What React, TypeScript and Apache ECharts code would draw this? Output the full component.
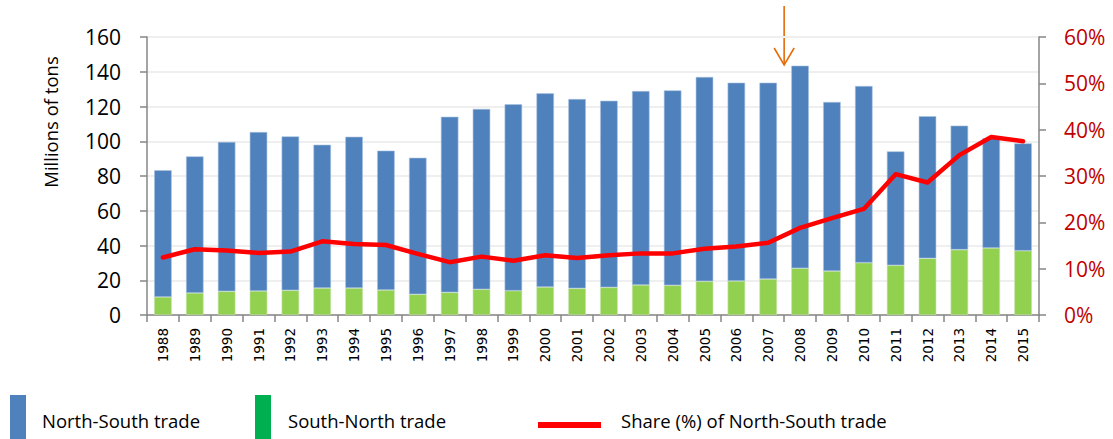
import React, { useEffect, useRef } from "react";
import * as echarts from "echarts";

const years = [
  "1988", "1989", "1990", "1991", "1992", "1993", "1994", "1995", "1996", "1997",
  "1998", "1999", "2000", "2001", "2002", "2003", "2004", "2005", "2006", "2007",
  "2008", "2009", "2010", "2011", "2012", "2013", "2014", "2015",
];

// South-North trade (millions of tons) - bottom of stack
const southNorth = [
  10.4, 12.7, 13.6, 13.8, 14.2, 15.5, 15.5, 14.4, 11.9, 13.0,
  14.8, 14.0, 16.1, 15.3, 15.9, 17.3, 17.1, 19.4, 19.6, 20.7,
  26.9, 25.3, 30.1, 28.6, 32.6, 37.6, 38.6, 37.0,
];

// North-South trade (millions of tons) - stacked on top
const northSouth = [
  72.9, 78.6, 86.0, 91.5, 88.6, 82.5, 87.1, 80.2, 78.6, 101.1,
  103.8, 107.3, 111.5, 109.0, 107.4, 111.6, 112.2, 117.6, 114.1, 113.0,
  116.6, 97.3, 101.7, 65.6, 81.8, 71.4, 63.2, 61.8,
];

// Share (%) line, right axis
const share = [
  12.4, 14.2, 13.9, 13.4, 13.7, 15.9, 15.3, 15.1, 13.2, 11.4,
  12.6, 11.7, 12.9, 12.3, 12.9, 13.3, 13.3, 14.3, 14.8, 15.6,
  18.8, 20.9, 22.9, 30.4, 28.6, 34.5, 38.4, 37.5,
];

const legendLabels = ["North-South trade", "South-North trade", "Share (%) of North-South trade"];
const yAxisTitle = "Millions of tons";
const arrowBetween = ["2007", "2008"];

const FONT = "'Open Sans', 'Noto Sans', sans-serif";

export default function App() {
  const ref = useRef<HTMLDivElement>(null);

  useEffect(() => {
    if (!ref.current) return;
    const chart = echarts.init(ref.current, null, { renderer: "svg" });
    const axisGray = "#868686";
    chart.setOption({
      animation: false,
      backgroundColor: "#ffffff",
      grid: { left: 147, right: 74, top: 37, bottom: 124, containLabel: false },
      xAxis: {
        type: "category",
        data: years,
        boundaryGap: true,
        axisLine: { lineStyle: { color: axisGray, width: 1.5 } },
        axisTick: { show: true, length: 7, alignWithLabel: false, lineStyle: { color: axisGray, width: 1.5 } },
        axisLabel: {
          rotate: 90,
          margin: 13,
          color: "#000000",
          fontFamily: "'DejaVu Sans', sans-serif",
          fontSize: 13.5,
          interval: 0,
        },
      },
      yAxis: [
        {
          type: "value",
          min: 0,
          max: 160,
          interval: 20,
          axisLine: { show: true, lineStyle: { color: axisGray, width: 1.5 } },
          axisTick: { show: true, length: 7, lineStyle: { color: axisGray, width: 1.5 } },
          axisLabel: { color: "#000000", fontFamily: FONT, fontSize: 21, margin: 26 },
          splitLine: { show: true, lineStyle: { color: "#EFEFEF", width: 2 } },
        },
        {
          type: "value",
          min: 0,
          max: 60,
          interval: 10,
          position: "right",
          axisLine: { show: true, lineStyle: { color: axisGray, width: 1.5 } },
          axisTick: { show: true, length: 7, lineStyle: { color: axisGray, width: 1.5 } },
          axisLabel: { color: "#C00000", fontFamily: FONT, fontSize: 21, margin: 25, formatter: "{value}%" },
          splitLine: { show: false },
        },
      ],
      series: [
        {
          name: legendLabels[1],
          type: "bar",
          stack: "trade",
          data: southNorth,
          barWidth: "55%",
          itemStyle: { color: "#92D050", borderColor: "#C4E3A6", borderWidth: 0.6 },
        },
        {
          name: legendLabels[0],
          type: "bar",
          stack: "trade",
          data: northSouth,
          barWidth: "55%",
          itemStyle: { color: "#4F81BD", borderColor: "#A9C2E0", borderWidth: 0.6 },
        },
        {
          name: legendLabels[2],
          type: "line",
          yAxisIndex: 1,
          data: share,
          symbol: "none",
          z: 5,
          lineStyle: { color: "#FF0000", width: 4.5, cap: "round", join: "round" },
        },
      ],
      graphic: [
        {
          type: "text",
          x: 50,
          y: 122,
          rotation: Math.PI / 2,
          style: {
            text: yAxisTitle,
            fill: "#000000",
            font: `18.5px ${FONT}`,
            align: "center",
            verticalAlign: "middle",
          },
        },
        { type: "rect", shape: { x: 10, y: 395, width: 16, height: 50 }, style: { fill: "#4F81BD" } },
        {
          type: "text",
          x: 42,
          y: 420,
          style: { text: legendLabels[0], fill: "#000000", font: `18.5px ${FONT}`, verticalAlign: "middle" },
        },
        { type: "rect", shape: { x: 255, y: 395, width: 16, height: 50 }, style: { fill: "#00B050" } },
        {
          type: "text",
          x: 288,
          y: 420,
          style: { text: legendLabels[1], fill: "#000000", font: `18.5px ${FONT}`, verticalAlign: "middle" },
        },
        { type: "rect", shape: { x: 538, y: 422, width: 63, height: 6 }, style: { fill: "#FF0000" } },
        {
          type: "text",
          x: 621,
          y: 420,
          style: { text: legendLabels[2], fill: "#000000", font: `18.5px ${FONT}`, verticalAlign: "middle" },
        },
      ],
    });

    const xa = chart.convertToPixel({ xAxisIndex: 0 }, arrowBetween[0]) as number;
    const xb = chart.convertToPixel({ xAxisIndex: 0 }, arrowBetween[1]) as number;
    const ax = (xa + xb) / 2;
    const arrowColor = "#E46C0A";
    chart.setOption({
      graphic: [
        {
          id: "arrowShaft",
          type: "line",
          shape: { x1: ax, y1: 6, x2: ax, y2: 64 },
          style: { stroke: arrowColor, lineWidth: 1.6 },
        },
        {
          id: "arrowHead",
          type: "polyline",
          shape: { points: [[ax - 10, 48], [ax, 65], [ax + 10, 48]] },
          style: { stroke: arrowColor, lineWidth: 1.6, fill: "none" },
        },
      ],
    });

    return () => chart.dispose();
  }, []);

  return (
    <div
      ref={ref}
      style={{ position: "fixed", left: 0, top: 0, width: 1113, height: 439 }}
    />
  );
}
